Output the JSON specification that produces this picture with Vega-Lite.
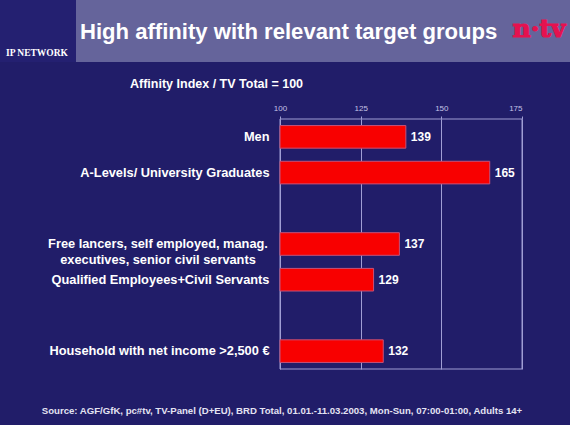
{
  "$schema": "https://vega.github.io/schema/vega-lite/v6.json",
  "background": "#211d69",
  "padding": {"left": 0, "top": 0, "right": 0, "bottom": 11},
  "autosize": {"type": "pad"},
  "spacing": 15,
  "title": {
    "text": "Source: AGF/GfK, pc#tv, TV-Panel (D+EU), BRD Total, 01.01.-11.03.2003, Mon-Sun, 07:00-01:00,  Adults 14+",
    "orient": "bottom",
    "anchor": "middle",
    "frame": "bounds",
    "offset": 36,
    "dx": -3,
    "font": "Liberation Sans",
    "fontSize": 9.6,
    "fontWeight": "bold",
    "color": "#e4e3f2"
  },
  "config": {"view": {"stroke": null}, "font": "Liberation Sans"},
  "vconcat": [
    {
      "hconcat": [
        {
          "width": 76,
          "height": 62,
          "view": {"fill": "#242071", "stroke": null},
          "data": {"values": [{}]},
          "mark": {"type": "text", "text": "IP NETWORK", "font": "Liberation Serif", "fontWeight": "bold", "fontSize": 9.5, "color": "white", "baseline": "middle", "dx": -1, "dy": 22},
          "encoding": {}
        },
        {
          "width": 494,
          "height": 62,
          "view": {"fill": "#65649b", "stroke": null},
          "data": {"values": [{}]},
          "layer": [
            {
              "mark": {"type": "text", "text": "High affinity with relevant target groups", "font": "Liberation Sans", "fontWeight": "bold", "fontSize": 22.1, "color": "white", "align": "left", "baseline": "alphabetic", "dx": -243, "dy": 8},
              "encoding": {}
            },
            {
              "mark": {"type": "text", "text": "n·tv", "font": "DejaVu Serif", "fontWeight": "bold", "fontSize": 25, "color": "#e5124f", "stroke": "#e5124f", "strokeWidth": 1.2, "align": "center", "baseline": "alphabetic", "dx": 216, "dy": 6},
              "encoding": {}
            }
          ]
        }
      ],
      "spacing": 0,
      "bounds": "flush"
    },
    {
      "width": 522,
      "height": 250,
      "title": {
        "text": "Affinity Index / TV Total = 100",
        "anchor": "start",
        "frame": "group",
        "dx": 130,
        "offset": 14,
        "font": "Liberation Sans",
        "fontSize": 12.5,
        "fontWeight": "bold",
        "color": "white"
      },
      "data": {
        "values": [
          {"group": "Men", "value": 139},
          {"group": "A-Levels/ University Graduates", "value": 165},
          {"group": "Free lancers, self employed, manag. executives, senior civil servants", "value": 137},
          {"group": "Qualified Employees+Civil Servants", "value": 129},
          {"group": "Household with net income >2,500 €", "value": 132}
        ]
      },
      "layer": [
        {
          "data": {"values": [{}]},
          "mark": {"type": "rect", "fill": null, "fillOpacity": 0, "stroke": "#a09ed4", "strokeWidth": 1},
          "encoding": {
            "x": {"datum": 100, "type": "quantitative", "scale": {"domain": [13.22, 175], "zero": false, "nice": false}},
            "x2": {"datum": 175}
          }
        },
        {
          "mark": {"type": "bar", "color": "#f80000", "stroke": "#c4527a", "strokeWidth": 1},
          "encoding": {
            "y": {
              "field": "group",
              "type": "nominal",
              "scale": {
                "domain": ["Men", "A-Levels/ University Graduates", " ", "Free lancers, self employed, manag. executives, senior civil servants", "Qualified Employees+Civil Servants", "  ", "Household with net income >2,500 €"],
                "paddingInner": 0.367,
                "paddingOuter": 0.1835
              },
              "axis": {
                "title": null,
                "offset": -280,
                "ticks": false,
                "domain": false,
                "grid": false,
                "labelColor": "white",
                "labelFont": "Liberation Sans",
                "labelFontWeight": "bold",
                "labelFontSize": 12.8,
                "labelLimit": 0,
                "labelLineHeight": 16,
                "labelBaseline": "middle",
                "labelAlign": {"condition": {"test": "indexof(datum.value, 'manag.') >= 0", "value": "center"}, "value": "right"},
                "labelPadding": {"condition": {"test": "indexof(datum.value, 'manag.') >= 0", "value": 122.5}, "value": 11},
                "labelExpr": "indexof(datum.label, 'manag.') >= 0 ? ['Free lancers, self employed, manag.', 'executives, senior civil servants'] : datum.label"
              }
            },
            "x": {
              "field": "value",
              "type": "quantitative",
              "axis": {
                "orient": "top",
                "title": null,
                "values": [100, 125, 150, 175],
                "grid": true,
                "gridColor": "#a09ed4",
                "gridWidth": 1,
                "gridOpacity": 1,
                "domain": false,
                "ticks": true,
                "tickSize": 3,
                "tickColor": "#a09ed4",
                "labelPadding": 4,
                "labelFont": "Liberation Sans",
                "labelFontSize": 8,
                "labelColor": "#c5c3e6",
                "minExtent": 15,
                "maxExtent": 15
              }
            },
            "x2": {"datum": 100}
          }
        },
        {
          "mark": {"type": "text", "align": "left", "baseline": "middle", "dx": 5, "color": "white", "font": "Liberation Sans", "fontWeight": "bold", "fontSize": 12},
          "encoding": {
            "y": {"field": "group", "type": "nominal"},
            "x": {"field": "value", "type": "quantitative"},
            "text": {"field": "value", "type": "quantitative"}
          }
        }
      ]
    }
  ]
}
